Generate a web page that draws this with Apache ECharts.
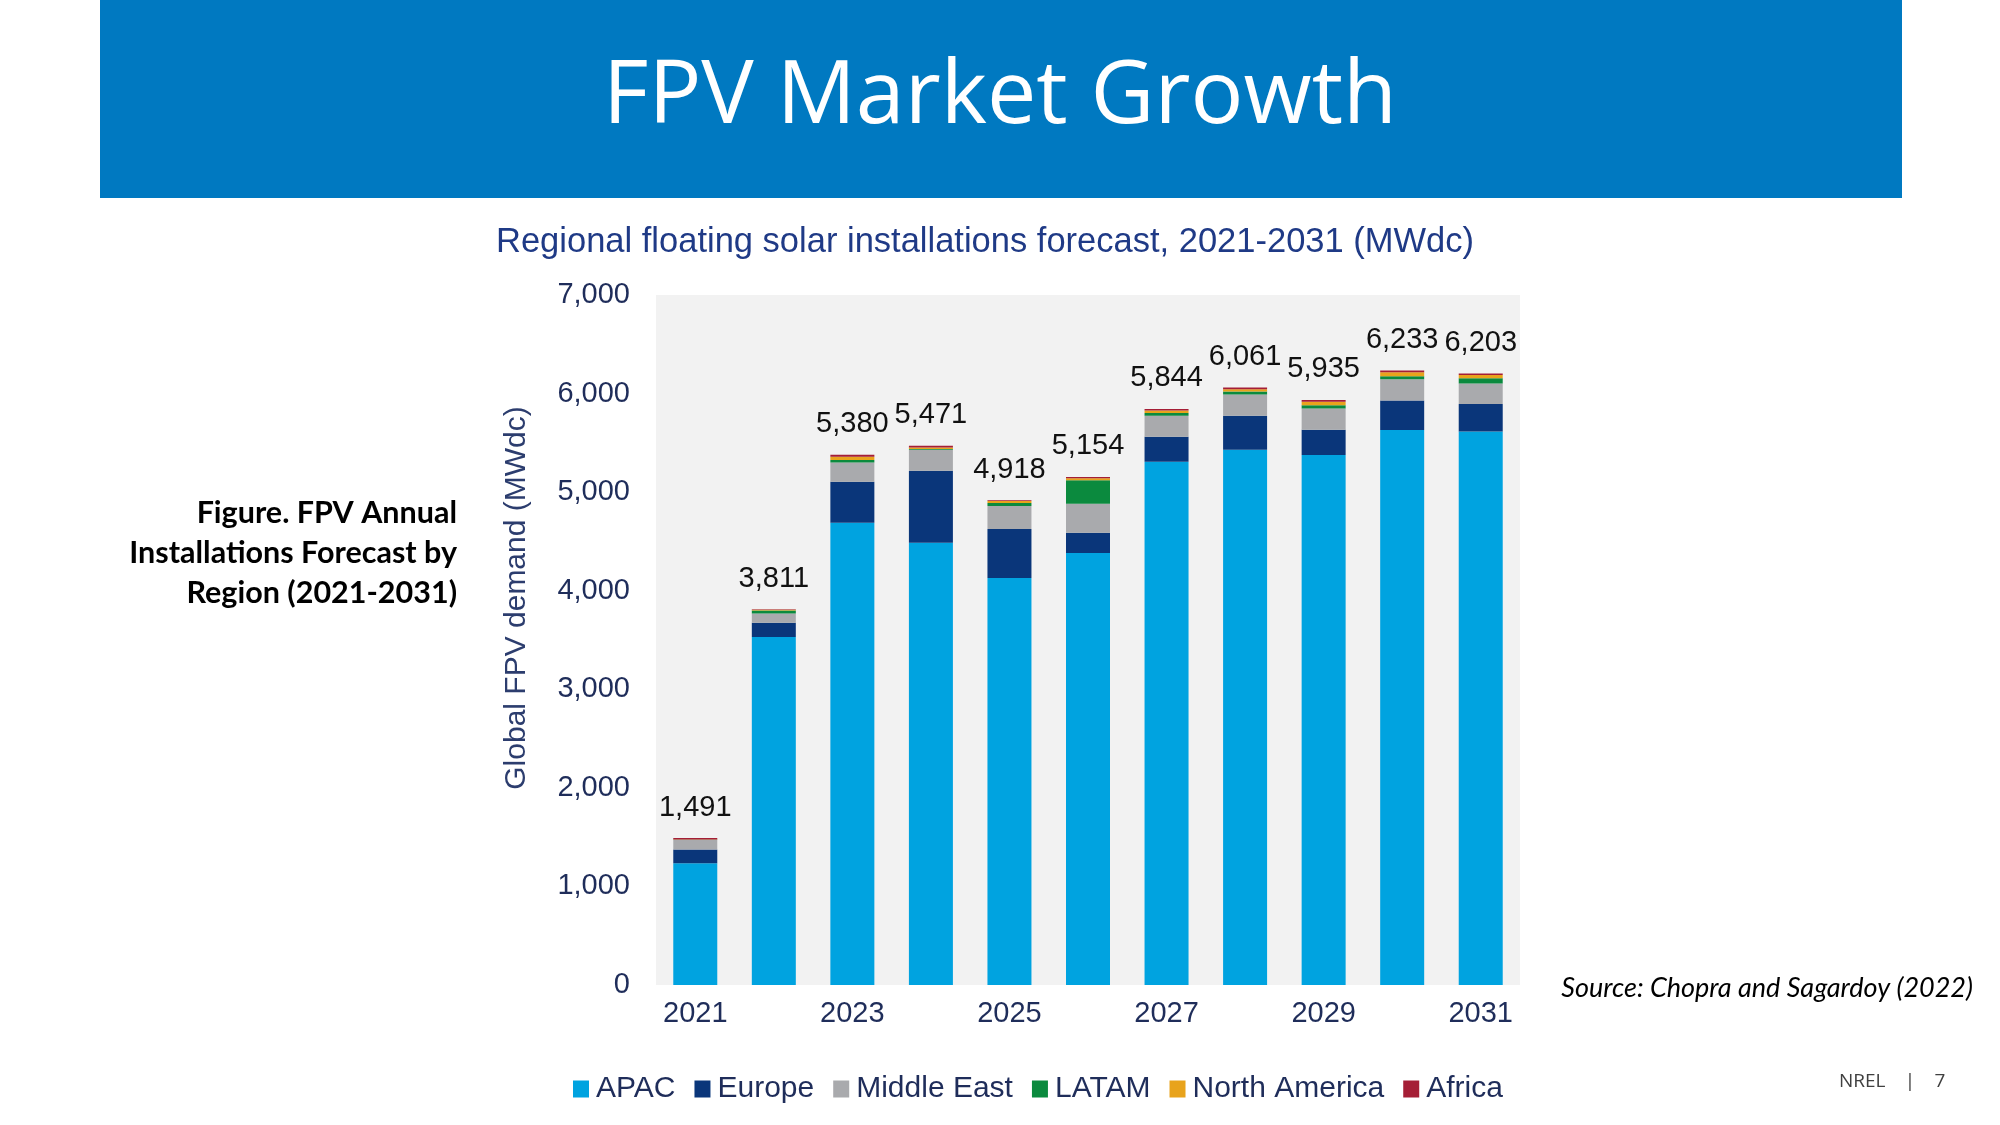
<!DOCTYPE html>
<html>
<head>
<meta charset="utf-8">
<script src="https://cdn.jsdelivr.net/npm/echarts@6/dist/echarts.min.js"></script>
<style>
html,body{margin:0;padding:0;background:#fff;}
#chart{width:2000px;height:1125px;}
</style>
</head>
<body>
<div id="chart"></div>
<script>
const years = ['2021','2022','2023','2024','2025','2026','2027','2028','2029','2030','2031'];
const apac = [1235, 3530, 4690, 4487, 4130, 4383, 5309, 5430, 5378, 5630, 5615];
const europe = [140, 145, 415, 730, 495, 206, 254, 345, 254, 300, 280];
const middleEast = [95, 95, 195, 213, 235, 294, 213, 215, 216, 216, 206];
const latam = [3, 30, 25, 8, 30, 237, 28, 30, 33, 30, 55];
const northAmerica = [3, 8, 35, 15, 20, 22, 25, 25, 36, 40, 32];
const africa = [15, 3, 20, 18, 8, 12, 15, 16, 18, 17, 15];
const totals = [1491, 3811, 5380, 5471, 4918, 5154, 5844, 6061, 5935, 6233, 6203];
const yTicks = [0, 1000, 2000, 3000, 4000, 5000, 6000, 7000];

const chart = echarts.init(document.getElementById('chart'));
const FONT = '"Liberation Sans", Arial, sans-serif';
const NAVY = '#1f2d5a';

function fmt(n){ return n.toLocaleString('en-US'); }

const seriesDefs = [
  {name:'APAC', data:apac, color:'#00A3E0'},
  {name:'Europe', data:europe, color:'#0A367A'},
  {name:'Middle East', data:middleEast, color:'#A9AAAD'},
  {name:'LATAM', data:latam, color:'#0B8A3E'},
  {name:'North America', data:northAmerica, color:'#E8A31C'},
  {name:'Africa', data:africa, color:'#A51E36'}
];

const series = seriesDefs.map((s, i) => ({
  name: s.name,
  type: 'bar',
  stack: 'total',
  barWidth: 44,
  data: s.data,
  itemStyle: {color: s.color},
  emphasis: {disabled: true},
  label: i === seriesDefs.length - 1 ? {
    show: true,
    position: 'top',
    distance: 16,
    fontFamily: FONT,
    fontSize: 29,
    color: '#111',
    formatter: p => fmt(totals[p.dataIndex])
  } : {show: false}
}));

chart.setOption({
  animation: false,
  backgroundColor: '#ffffff',
  title: {
    text: 'Regional floating solar installations forecast, 2021-2031 (MWdc)',
    left: 980,
    textAlign: 'center',
    top: 220,
    textStyle: {fontFamily: FONT, fontSize: 34.5, fontWeight: 'normal', color: '#1f3a86'}
  },
  grid: {
    left: 656, right: 480, top: 295, bottom: 140,
    show: true, backgroundColor: '#f2f2f2', borderWidth: 0
  },
  legend: {
    left: 568, top: 1069,
    itemWidth: 16, itemHeight: 17, itemGap: 19,
    icon: 'rect',
    textStyle: {fontFamily: FONT, fontSize: 30, color: NAVY, padding: [0,0,0,2]},
    data: seriesDefs.map(s => s.name)
  },
  xAxis: {
    type: 'category',
    data: years,
    axisLine: {show: false},
    axisTick: {show: false},
    axisLabel: {interval: 1, fontFamily: FONT, fontSize: 29, color: NAVY, margin: 14}
  },
  yAxis: {
    type: 'value',
    min: yTicks[0], max: yTicks[yTicks.length-1], interval: 1000,
    splitLine: {show: false},
    axisLine: {show: false},
    axisTick: {show: false},
    axisLabel: {fontFamily: FONT, fontSize: 29, color: NAVY, margin: 26,
      formatter: v => fmt(v)}
  },
  graphic: [
    {type:'rect', left:100, top:0, shape:{width:1802, height:198}, style:{fill:'#0079C1'}, z:-1},
    {type:'text', x:1000, y:98, style:{text:'FPV Market Growth', fill:'#ffffff',
      font:'88px "Open Sans", sans-serif', textAlign:'center', textVerticalAlign:'middle'}},
    {type:'text', x:517, y:598, rotation: Math.PI/2, style:{text:'Global FPV demand (MWdc)', fill:'#2c3d6e',
      font:'30px "Liberation Sans", Arial, sans-serif', textAlign:'center', textVerticalAlign:'middle'}},
    {type:'text', x:457, y:513, style:{text:'Figure. FPV Annual', fill:'#000',
      font:'bold 30.5px Lato, sans-serif', textAlign:'right', textVerticalAlign:'middle'}},
    {type:'text', x:457, y:553, style:{text:'Installations Forecast by', fill:'#000',
      font:'bold 30.5px Lato, sans-serif', textAlign:'right', textVerticalAlign:'middle'}},
    {type:'text', x:457, y:593, style:{text:'Region (2021-2031)', fill:'#000',
      font:'bold 30.5px Lato, sans-serif', textAlign:'right', textVerticalAlign:'middle'}},
    {type:'text', x:1973, y:988, style:{text:'Source: Chopra and Sagardoy (2022)', fill:'#000',
      font:'italic 27px Lato, sans-serif', textAlign:'right', textVerticalAlign:'middle'}},
    {type:'text', x:1839, y:1082, style:{text:'NREL', fill:'#404040',
      font:'19px "Open Sans", sans-serif', textAlign:'left', textVerticalAlign:'middle'}},
    {type:'text', x:1910, y:1082, style:{text:'|', fill:'#404040',
      font:'19px "Open Sans", sans-serif', textAlign:'center', textVerticalAlign:'middle'}},
    {type:'text', x:1940, y:1082, style:{text:'7', fill:'#404040',
      font:'19px "Open Sans", sans-serif', textAlign:'center', textVerticalAlign:'middle'}}
  ],
  series: series
});
</script>
</body>
</html>
